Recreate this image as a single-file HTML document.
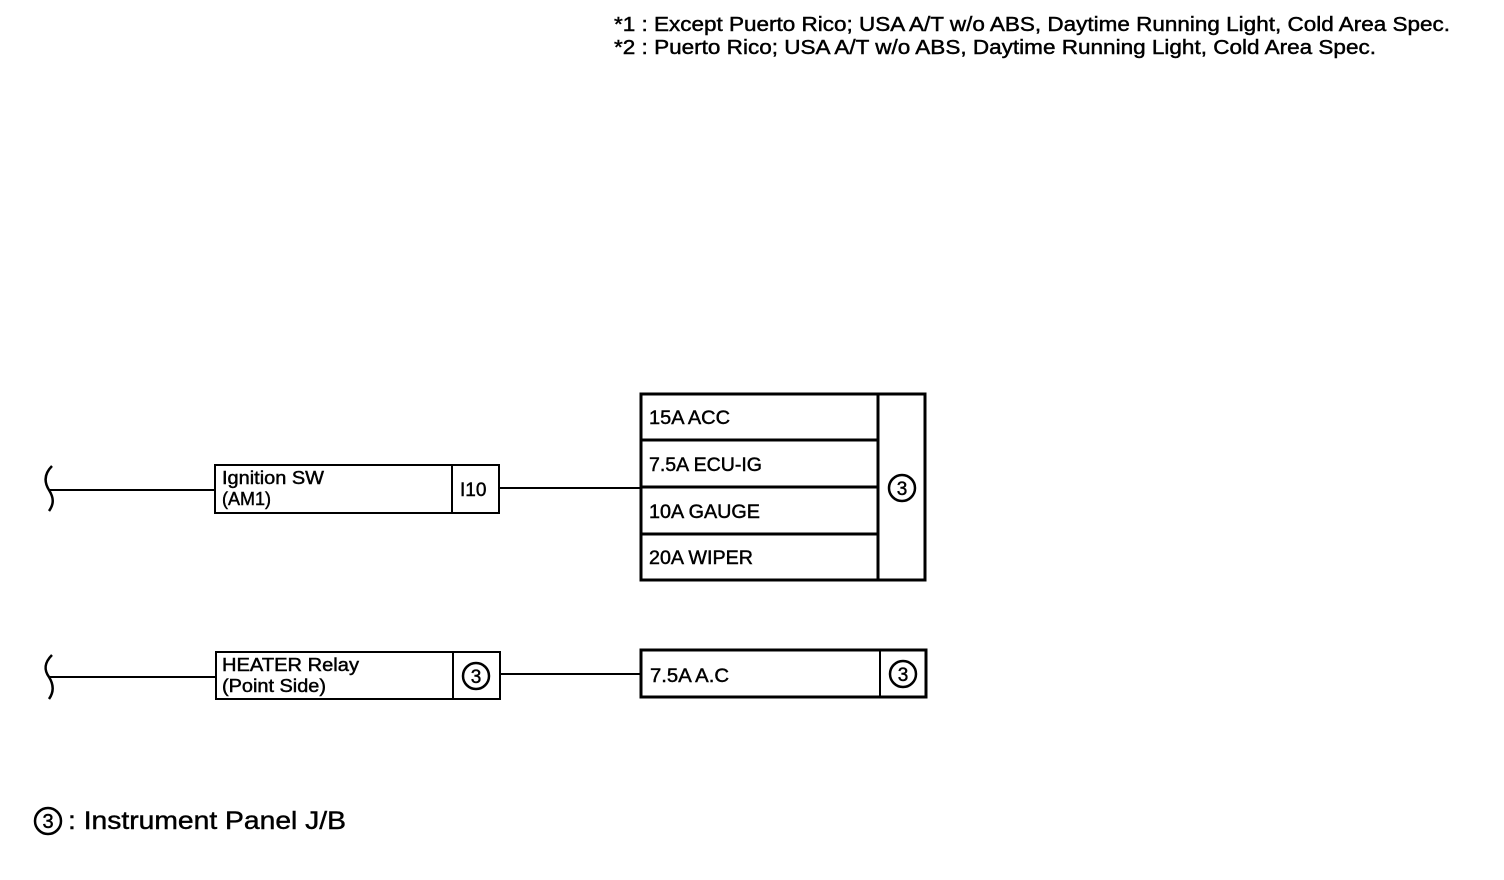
<!DOCTYPE html>
<html><head><meta charset="utf-8"><style>
html,body{margin:0;padding:0;background:#fff;width:1504px;height:880px;overflow:hidden}
svg{display:block}
text{font-family:"Liberation Sans",sans-serif;fill:#000;stroke:#000;stroke-width:0.45}
</style></head><body>
<svg width="1504" height="880" viewBox="0 0 1504 880">
<text x="614" y="31" font-size="20" textLength="836" lengthAdjust="spacingAndGlyphs">*1 : Except Puerto Rico; USA A/T w/o ABS, Daytime Running Light, Cold Area Spec.</text>
<text x="614" y="54" font-size="20" textLength="762" lengthAdjust="spacingAndGlyphs">*2 : Puerto Rico; USA A/T w/o ABS, Daytime Running Light, Cold Area Spec.</text>

<g fill="none" stroke="#000" stroke-width="2">
 <path d="M52,466 C44,474 44,482 49,490 C54,498 54,504 49,511" stroke-width="2.5"/>
 <path d="M52,655 C44,663 44,670 49,677 C54,685 54,692 49,699" stroke-width="2.5"/>
 <line x1="50" y1="490" x2="215" y2="490"/>
 <line x1="499" y1="488" x2="641" y2="488"/>
 <line x1="50" y1="677" x2="216" y2="677"/>
 <line x1="500" y1="674" x2="641" y2="674"/>
 <rect x="215" y="465" width="284" height="48"/>
 <line x1="452" y1="465" x2="452" y2="513"/>
 <rect x="216" y="652" width="284" height="47"/>
 <line x1="453" y1="652" x2="453" y2="699"/>
 <rect x="641" y="394" width="284" height="186" stroke-width="3"/>
 <line x1="878" y1="394" x2="878" y2="580" stroke-width="3"/>
 <line x1="641" y1="440" x2="878" y2="440" stroke-width="3"/>
 <line x1="641" y1="487" x2="878" y2="487" stroke-width="3"/>
 <line x1="641" y1="534" x2="878" y2="534" stroke-width="3"/>
 <rect x="641" y="650" width="285" height="47" stroke-width="3"/>
 <line x1="880" y1="650" x2="880" y2="697" stroke-width="2"/>
 <circle cx="902" cy="488" r="13" stroke-width="2.5"/>
 <circle cx="476" cy="676" r="13" stroke-width="2.5"/>
 <circle cx="903" cy="674" r="13" stroke-width="2.5"/>
 <circle cx="48" cy="821" r="13" stroke-width="2.5"/>
</g>

<text x="222" y="484" font-size="18" textLength="102" lengthAdjust="spacingAndGlyphs">Ignition SW</text>
<text x="222" y="505" font-size="18">(AM1)</text>
<text x="460" y="496" font-size="19">I10</text>
<text x="222" y="671" font-size="18" textLength="137" lengthAdjust="spacingAndGlyphs">HEATER Relay</text>
<text x="222" y="692" font-size="18" textLength="104" lengthAdjust="spacingAndGlyphs">(Point Side)</text>

<text x="649" y="424" font-size="19" textLength="81" lengthAdjust="spacingAndGlyphs">15A ACC</text>
<text x="649" y="471" font-size="19" textLength="113" lengthAdjust="spacingAndGlyphs">7.5A ECU-IG</text>
<text x="649" y="518" font-size="19" textLength="111" lengthAdjust="spacingAndGlyphs">10A GAUGE</text>
<text x="649" y="564" font-size="19" textLength="104" lengthAdjust="spacingAndGlyphs">20A WIPER</text>
<text x="650" y="682" font-size="19" textLength="79" lengthAdjust="spacingAndGlyphs">7.5A A.C</text>

<text x="902" y="495" font-size="19" text-anchor="middle">3</text>
<text x="476" y="683" font-size="19" text-anchor="middle">3</text>
<text x="903" y="681" font-size="19" text-anchor="middle">3</text>
<text x="48" y="828" font-size="20" text-anchor="middle">3</text>

<text x="68" y="829" font-size="25" textLength="278" lengthAdjust="spacingAndGlyphs">: Instrument Panel J/B</text>
</svg>
</body></html>
